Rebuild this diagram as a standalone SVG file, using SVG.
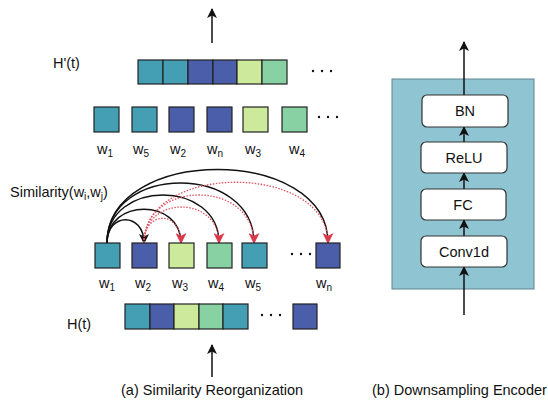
<svg xmlns="http://www.w3.org/2000/svg" width="548" height="402" viewBox="0 0 548 402">
<style>
text{font-family:"Liberation Sans",Arial,sans-serif;fill:#111;}
.lbl{font-size:14.5px;}
.sub{font-size:10px;}
.c1{fill:#449fb4;}
.c2{fill:#4b5ea9;}
.c3{fill:#cde99b;}
.c4{fill:#88d1a3;}
.cell{stroke:#222;stroke-width:1.2;}
.dots{fill:#111;}
.blk{fill:none;stroke:#111;stroke-width:1.5;}
.red{fill:none;stroke:#e0505e;stroke-width:1.3;stroke-dasharray:1.5 1.5;}
.box{fill:#fff;stroke:#333;stroke-width:1.2;}
</style>
<defs>
<marker id="ab" viewBox="0 0 10 10" refX="9" refY="5" markerWidth="10" markerHeight="10" markerUnits="userSpaceOnUse" orient="auto">
<path d="M0,0 L10,5 L0,10 L2.5,5 Z" fill="#111"/>
</marker>
<marker id="ar" viewBox="0 0 10 10" refX="9" refY="5" markerWidth="11" markerHeight="11" markerUnits="userSpaceOnUse" orient="auto">
<path d="M0,0 L10,5 L0,10 L2.5,5 Z" fill="#d93a4b"/>
</marker>
</defs>

<!-- Panel (a) -->
<g id="arrow-top">
<line x1="212" y1="43" x2="212" y2="9" class="blk" marker-end="url(#ab)"/>
</g>
<g id="Hprime">
<text x="53" y="68" class="lbl">H'(t)</text>
<rect x="138" y="60" width="25" height="24" class="cell c1"/>
<rect x="163" y="60" width="25" height="24" class="cell c1"/>
<rect x="188" y="60" width="25" height="24" class="cell c2"/>
<rect x="213" y="60" width="24" height="24" class="cell c2"/>
<rect x="237" y="60" width="25" height="24" class="cell c3"/>
<rect x="262" y="60" width="25" height="24" class="cell c4"/>
<circle cx="313" cy="71" r="1.2" class="dots"/><circle cx="322" cy="71" r="1.2" class="dots"/><circle cx="331" cy="71" r="1.2" class="dots"/>
</g>
<g id="sorted-row">
<rect x="94" y="107" width="25" height="25" class="cell c1"/>
<rect x="132" y="107" width="25" height="25" class="cell c1"/>
<rect x="169" y="107" width="25" height="25" class="cell c2"/>
<rect x="207" y="107" width="25" height="25" class="cell c2"/>
<rect x="243" y="107" width="25" height="25" class="cell c3"/>
<rect x="282" y="107" width="25" height="25" class="cell c4"/>
<circle cx="319" cy="117" r="1.2" class="dots"/><circle cx="328" cy="117" r="1.2" class="dots"/><circle cx="337" cy="117" r="1.2" class="dots"/>
<text x="97" y="154" class="lbl">w<tspan class="sub" dy="3">1</tspan></text>
<text x="133" y="154" class="lbl">w<tspan class="sub" dy="3">5</tspan></text>
<text x="170" y="154" class="lbl">w<tspan class="sub" dy="3">2</tspan></text>
<text x="207" y="154" class="lbl">w<tspan class="sub" dy="3">n</tspan></text>
<text x="245" y="154" class="lbl">w<tspan class="sub" dy="3">3</tspan></text>
<text x="289" y="154" class="lbl">w<tspan class="sub" dy="3">4</tspan></text>
</g>
<g id="similarity-label">
<text x="10" y="197" class="lbl">Similarity(w<tspan class="sub" dy="3">i</tspan><tspan dy="-3">,w</tspan><tspan class="sub" dy="3">j</tspan><tspan dy="-3">)</tspan></text>
</g>
<g id="connectors">
<path d="M107,243 C107,212 144,212 144,243" class="blk" marker-end="url(#ab)"/>
<path d="M107,243 C107,198 181,198 181,243" class="blk"/>
<path d="M107,243 C107,179 219,179 219,243" class="blk"/>
<path d="M107,243 C107,163 254,163 254,243" class="blk"/>
<path d="M107,243 C107,145 328,145 328,243" class="blk"/>
<path d="M144,243 C144,210 181,210 181,243" class="red" marker-end="url(#ar)"/>
<path d="M144,243 C144,195 219,195 219,243" class="red" marker-end="url(#ar)"/>
<path d="M144,243 C144,179 254,179 254,243" class="red" marker-end="url(#ar)"/>
<path d="M144,243 C144,162 328,162 328,243" class="red" marker-end="url(#ar)"/>
</g>
<g id="input-row">
<rect x="95" y="243" width="25" height="25" class="cell c1"/>
<rect x="132" y="243" width="25" height="25" class="cell c2"/>
<rect x="169" y="243" width="25" height="25" class="cell c3"/>
<rect x="207" y="243" width="25" height="25" class="cell c4"/>
<rect x="242" y="243" width="25" height="25" class="cell c1"/>
<rect x="316" y="243" width="24" height="25" class="cell c2"/>
<circle cx="292" cy="254" r="1.2" class="dots"/><circle cx="301" cy="254" r="1.2" class="dots"/><circle cx="310" cy="254" r="1.2" class="dots"/>
<text x="99" y="288" class="lbl">w<tspan class="sub" dy="3">1</tspan></text>
<text x="135" y="288" class="lbl">w<tspan class="sub" dy="3">2</tspan></text>
<text x="172" y="288" class="lbl">w<tspan class="sub" dy="3">3</tspan></text>
<text x="208" y="288" class="lbl">w<tspan class="sub" dy="3">4</tspan></text>
<text x="245" y="288" class="lbl">w<tspan class="sub" dy="3">5</tspan></text>
<text x="316" y="288" class="lbl">w<tspan class="sub" dy="3">n</tspan></text>
</g>
<g id="Ht">
<text x="67" y="329" class="lbl">H(t)</text>
<rect x="125" y="304" width="25" height="25" class="cell c1"/>
<rect x="150" y="304" width="24" height="25" class="cell c2"/>
<rect x="174" y="304" width="25" height="25" class="cell c3"/>
<rect x="199" y="304" width="24" height="25" class="cell c4"/>
<rect x="223" y="304" width="25" height="25" class="cell c1"/>
<rect x="293" y="304" width="24" height="25" class="cell c2"/>
<circle cx="262" cy="315" r="1.2" class="dots"/><circle cx="271" cy="315" r="1.2" class="dots"/><circle cx="280" cy="315" r="1.2" class="dots"/>
</g>
<g id="arrow-bottom">
<line x1="212" y1="377" x2="212" y2="345" class="blk" marker-end="url(#ab)"/>
</g>
<text x="121" y="395" class="lbl">(a) Similarity Reorganization</text>

<!-- Panel (b) -->
<g id="encoder">
<rect x="392" y="79" width="142" height="210" fill="#8fc4d2" stroke="#5f8590" stroke-width="1"/>
</g>
<g id="connectors-b">
<line x1="464" y1="95" x2="464" y2="42" class="blk" marker-end="url(#ab)"/>
<line x1="464" y1="142" x2="464" y2="127" class="blk" marker-end="url(#ab)"/>
<line x1="464" y1="189" x2="464" y2="173" class="blk" marker-end="url(#ab)"/>
<line x1="464" y1="236" x2="464" y2="220" class="blk" marker-end="url(#ab)"/>
<line x1="464" y1="315" x2="464" y2="267" class="blk" marker-end="url(#ab)"/>
</g>
<g id="BN"><rect x="422" y="95" width="86" height="32" rx="5" class="box"/><text x="465" y="116" class="lbl" text-anchor="middle">BN</text></g>
<g id="ReLU"><rect x="421" y="142" width="86" height="31" rx="5" class="box"/><text x="464" y="163" class="lbl" text-anchor="middle">ReLU</text></g>
<g id="FC"><rect x="421" y="189" width="85" height="31" rx="5" class="box"/><text x="463" y="210" class="lbl" text-anchor="middle">FC</text></g>
<g id="Conv1d"><rect x="421" y="236" width="86" height="31" rx="5" class="box"/><text x="464" y="257" class="lbl" text-anchor="middle">Conv1d</text></g>
<text x="372" y="395" class="lbl">(b) Downsampling Encoder</text>
</svg>
